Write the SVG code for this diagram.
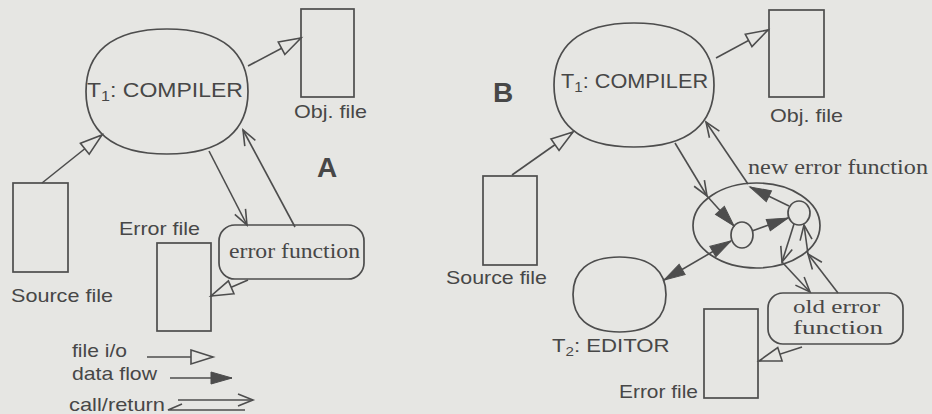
<svg xmlns="http://www.w3.org/2000/svg" width="932" height="414" viewBox="0 0 932 414">
<style>
.bg{fill:#e6e6e3}
.sh{fill:#e6e6e3;stroke:#4d4d4d;stroke-width:1.7}
.ln{fill:none;stroke:#4d4d4d;stroke-width:1.6}
.sans{font-family:"Liberation Sans",Arial,sans-serif;font-size:19px;fill:#474747}
.big{font-family:"Liberation Sans",Arial,sans-serif;font-size:20px;fill:#474747}
.serif{font-family:"Liberation Serif","Times New Roman",serif;font-size:21px;fill:#474747}
.serifs{font-family:"Liberation Serif","Times New Roman",serif;font-size:19px;fill:#474747}
.bold{font-family:"Liberation Sans",Arial,sans-serif;font-size:28px;font-weight:bold;fill:#474747}
</style>
<defs>
<marker id="tri" markerUnits="userSpaceOnUse" markerWidth="26" markerHeight="18" refX="22" refY="7" orient="auto" overflow="visible"><path d="M0,0 L22,7 L0,14 Z" fill="#e6e6e3" stroke="#4d4d4d" stroke-width="1.6"/></marker>
<marker id="fil" markerUnits="userSpaceOnUse" markerWidth="24" markerHeight="16" refX="21" refY="6" orient="auto" overflow="visible"><path d="M0,0 L21,6 L0,12 Z" fill="#4d4d4d" stroke="#4d4d4d" stroke-width="1"/></marker>
<marker id="filr" markerUnits="userSpaceOnUse" markerWidth="24" markerHeight="16" refX="0" refY="6" orient="auto" overflow="visible"><path d="M21,0 L0,6 L21,12 Z" fill="#4d4d4d" stroke="#4d4d4d" stroke-width="1"/></marker>
<marker id="chev" markerUnits="userSpaceOnUse" markerWidth="18" markerHeight="14" refX="15" refY="6" orient="auto" overflow="visible"><path d="M0,0 L15,6 L0,12" fill="none" stroke="#4d4d4d" stroke-width="1.6"/></marker>
</defs>
<rect class="bg" x="0" y="0" width="932" height="414"/>

<!-- Panel A -->
<g id="a-compiler">
<path class="sh" d="M86,91.5 C86,54 110,29 167,29 C224,29 248,54 248,91.5 C248,129 224,154 167,154 C110,154 86,129 86,91.5 Z"/>
<text class="big" transform="translate(87,97) scale(1.15,1)" x="0" y="0">T<tspan font-size="14" dy="4">1</tspan><tspan dy="-4">: COMPILER</tspan></text>
</g>
<g id="a-objfile">
<rect class="sh" x="301" y="9" width="53" height="88"/>
<text class="sans" x="294" y="118" textLength="73" lengthAdjust="spacingAndGlyphs">Obj. file</text>
</g>
<g id="a-sourcefile">
<rect class="sh" x="13" y="183" width="55" height="89"/>
<text class="sans" x="11" y="302" textLength="102" lengthAdjust="spacingAndGlyphs">Source file</text>
</g>
<g id="a-errorfile">
<rect class="sh" x="157" y="243" width="54" height="88"/>
<text class="sans" x="119" y="235" textLength="81" lengthAdjust="spacingAndGlyphs">Error file</text>
</g>
<g id="a-errorfunction">
<rect class="sh" x="219" y="225" width="145" height="54" rx="16" ry="16"/>
<text class="serif" x="229" y="258" textLength="131" lengthAdjust="spacingAndGlyphs">error function</text>
</g>
<text class="bold" x="317" y="177">A</text>

<!-- Panel B -->
<text class="bold" x="493" y="102">B</text>
<g id="b-compiler">
<path class="sh" d="M554,85 C554,48 577,23 634,23 C691,23 714,48 714,85 C714,122 691,147 634,147 C577,147 554,122 554,85 Z"/>
<text class="big" transform="translate(561,88) scale(1.085,1)" x="0" y="0">T<tspan font-size="14" dy="4">1</tspan><tspan dy="-4">: COMPILER</tspan></text>
</g>
<g id="b-objfile">
<rect class="sh" x="769" y="10" width="55" height="87"/>
<text class="sans" x="770" y="122" textLength="73" lengthAdjust="spacingAndGlyphs">Obj. file</text>
</g>
<g id="b-sourcefile">
<rect class="sh" x="483" y="176" width="54" height="89"/>
<text class="sans" x="446" y="284" textLength="101" lengthAdjust="spacingAndGlyphs">Source file</text>
</g>
<g id="b-newerrorfunction">
<ellipse class="sh" cx="756.5" cy="225.5" rx="63.5" ry="42.5"/>
<ellipse class="sh" cx="742" cy="235" rx="11" ry="13"/>
<ellipse class="sh" cx="799" cy="213" rx="11" ry="12"/>
<text class="serif" x="748" y="174" textLength="180" lengthAdjust="spacingAndGlyphs">new error function</text>
</g>
<g id="b-editor">
<path class="sh" d="M573,294.5 C573,272 587,257 619.5,257 C652,257 666,272 666,294.5 C666,317 652,332 619.5,332 C587,332 573,317 573,294.5 Z"/>
<text class="sans" transform="translate(552,352) scale(1.167,1)" x="0" y="0">T<tspan font-size="13" dy="4">2</tspan><tspan dy="-4">: EDITOR</tspan></text>
</g>
<g id="b-olderrorfunction">
<rect class="sh" x="768" y="293" width="135" height="51" rx="15" ry="15"/>
<text class="serifs" x="793" y="313" textLength="87" lengthAdjust="spacingAndGlyphs">old error</text>
<text class="serifs" x="793" y="334" textLength="90" lengthAdjust="spacingAndGlyphs">function</text>
</g>
<g id="b-errorfile">
<rect class="sh" x="704" y="309" width="54" height="89"/>
<text class="sans" x="619" y="398" textLength="79" lengthAdjust="spacingAndGlyphs">Error file</text>
</g>

<!-- Legend -->
<g id="legend">
<text class="sans" x="72" y="357" textLength="55" lengthAdjust="spacingAndGlyphs">file i/o</text>
<text class="sans" x="72" y="380" textLength="85" lengthAdjust="spacingAndGlyphs">data flow</text>
<text class="sans" x="69" y="411" textLength="96" lengthAdjust="spacingAndGlyphs">call/return</text>
</g>

<g id="connectors">
<!-- A -->
<line class="ln" x1="42" y1="183" x2="102" y2="135" marker-end="url(#tri)"/>
<line class="ln" x1="248" y1="66" x2="301" y2="38" marker-end="url(#tri)"/>
<line class="ln" x1="209" y1="151" x2="247" y2="225" marker-end="url(#chev)"/>
<line class="ln" x1="295" y1="227" x2="243" y2="130" marker-end="url(#chev)"/>
<line class="ln" x1="248" y1="280" x2="211" y2="296" marker-end="url(#tri)"/>
<!-- B -->
<line class="ln" x1="512" y1="175" x2="573" y2="132" marker-end="url(#tri)"/>
<line class="ln" x1="716" y1="58" x2="768" y2="30" marker-end="url(#tri)"/>
<line class="ln" x1="675" y1="143" x2="707" y2="196" marker-end="url(#chev)"/>
<line class="ln" x1="707" y1="196" x2="734" y2="226" marker-end="url(#fil)"/>
<line class="ln" x1="752" y1="231" x2="788" y2="218" marker-end="url(#fil)"/>
<line class="ln" x1="789" y1="206" x2="750" y2="187" marker-end="url(#fil)"/>
<line class="ln" x1="748" y1="184" x2="706" y2="122" marker-end="url(#chev)"/>
<line class="ln" x1="731" y1="241" x2="664" y2="280" marker-start="url(#filr)" marker-end="url(#fil)"/>
<line class="ln" x1="794" y1="224" x2="782" y2="262" marker-end="url(#chev)"/>
<line class="ln" x1="782" y1="262" x2="810" y2="292" marker-end="url(#chev)"/>
<line class="ln" x1="838" y1="293" x2="808" y2="254" marker-end="url(#chev)"/>
<line class="ln" x1="808" y1="254" x2="804" y2="225" marker-end="url(#chev)"/>
<line class="ln" x1="802" y1="347" x2="759" y2="361" marker-end="url(#tri)"/>
<!-- legend arrows -->
<line class="ln" x1="147" y1="357" x2="213" y2="357" marker-end="url(#tri)"/>
<line class="ln" x1="170" y1="378" x2="232" y2="378" marker-end="url(#fil)"/>
<line class="ln" x1="178" y1="400" x2="253" y2="400" marker-end="url(#chev)"/>
<polyline class="ln" points="245,410 168,410 182,404"/>
</g>
</svg>
